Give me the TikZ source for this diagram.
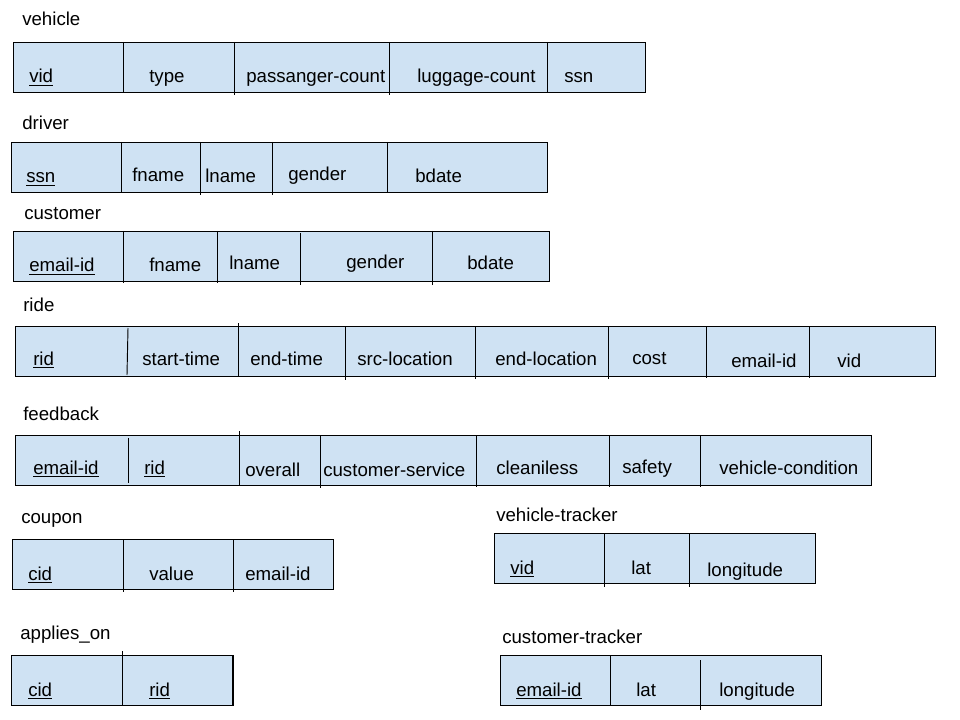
\documentclass[tikz,border=0pt]{standalone}
\usepackage{fontspec}
\setmainfont{Liberation Sans}
\definecolor{cellblue}{HTML}{CFE2F3}
% primary-key attribute
\newcommand{\pkey}[1]{\underline{#1}}
\begin{document}
\begin{tikzpicture}[x=0.75pt,y=-0.75pt,
  tablebox/.style={fill=cellblue,draw=black,line width=0.7pt},
  divider/.style={draw=black,line width=0.7pt},
  attr/.style={anchor=base west,inner sep=0pt,font=\fontsize{14}{16}\selectfont},
  title/.style={anchor=base west,inner sep=0pt,font=\fontsize{14}{16}\selectfont}]
\useasboundingbox[fill=white] (0,0) rectangle (960,720);

% ---------- vehicle
\node[title] (vehicle) at (22,26) {vehicle};
\path[tablebox] (13,42) rectangle (645,92);
\foreach \x/\a/\b in {123/42/92,234/42/95,389/42/95,547/42/92}
  \draw[divider] (\x,\a) -- (\x,\b);
\node[attr] (vehicle-vid) at (29,83) {\pkey{vid}};
\node[attr] (vehicle-type) at (149,83) {type};
\node[attr] (vehicle-pc) at (246,83) {passanger-count};
\node[attr] (vehicle-lc) at (417,83) {luggage-count};
\node[attr] (vehicle-ssn) at (564,83) {ssn};

% ---------- driver
\node[title] (driver) at (22,130) {driver};
\path[tablebox] (11,142) rectangle (547,192);
\foreach \x/\a/\b in {121/142/192,200/142/195,272/142/195,387/142/192}
  \draw[divider] (\x,\a) -- (\x,\b);
\node[attr] (driver-ssn) at (26,183) {\pkey{ssn}};
\node[attr] (driver-fname) at (132,182) {fname};
\node[attr] (driver-lname) at (205,183) {lname};
\node[attr] (driver-gender) at (288,181) {gender};
\node[attr] (driver-bdate) at (415,183) {bdate};

% ---------- customer
\node[title] (customer) at (24,220) {customer};
\path[tablebox] (13,231) rectangle (549,281);
\foreach \x/\a/\b in {123/231/283,217/231/283,300/233/285,432/231/285}
  \draw[divider] (\x,\a) -- (\x,\b);
\node[attr] (customer-email) at (29,272) {\pkey{email-id}};
\node[attr] (customer-fname) at (149,272) {fname};
\node[attr] (customer-lname) at (229,270) {lname};
\node[attr] (customer-gender) at (346,269) {gender};
\node[attr] (customer-bdate) at (467,270) {bdate};

% ---------- ride
\node[title] (ride) at (23,311) {ride};
\path[tablebox] (15,326) rectangle (935,376);
\draw[divider] (128,328) -- (127,375);
\foreach \x/\a/\b in {238/323/376,345/326/380,475/326/379,608/326/379,706/326/378,809/326/378}
  \draw[divider] (\x,\a) -- (\x,\b);
\node[attr] (ride-rid) at (33,365) {\pkey{rid}};
\node[attr] (ride-start) at (142,365) {start-time};
\node[attr] (ride-end) at (250,365) {end-time};
\node[attr] (ride-src) at (357,365) {src-location};
\node[attr] (ride-endloc) at (495,365) {end-location};
\node[attr] (ride-cost) at (632,364) {cost};
\node[attr] (ride-email) at (731,367) {email-id};
\node[attr] (ride-vid) at (837,367) {vid};

% ---------- feedback
\node[title] (feedback) at (23,420) {feedback};
\path[tablebox] (15,435) rectangle (871,485);
\foreach \x/\a/\b in {128/438/483,239/431/485,320/435/488,476/435/487,609/435/487,700/435/487}
  \draw[divider] (\x,\a) -- (\x,\b);
\node[attr] (feedback-email) at (33,474) {\pkey{email-id}};
\node[attr] (feedback-rid) at (144,474) {\pkey{rid}};
\node[attr] (feedback-overall) at (245,476) {overall};
\node[attr] (feedback-cs) at (323,476) {customer-service};
\node[attr] (feedback-clean) at (496,474) {cleaniless};
\node[attr] (feedback-safety) at (622,473) {safety};
\node[attr] (feedback-vc) at (719,474) {vehicle-condition};

% ---------- coupon
\node[title] (coupon) at (21,523) {coupon};
\path[tablebox] (12,539) rectangle (333,589);
\foreach \x/\a/\b in {123/539/592,233/539/592}
  \draw[divider] (\x,\a) -- (\x,\b);
\node[attr] (coupon-cid) at (28,580) {\pkey{cid}};
\node[attr] (coupon-value) at (149,580) {value};
\node[attr] (coupon-email) at (245,580) {email-id};

% ---------- vehicle-tracker
\node[title] (vtracker) at (496,521) {vehicle-tracker};
\path[tablebox] (494,533) rectangle (815,583);
\foreach \x/\a/\b in {604/533/587,689/533/587}
  \draw[divider] (\x,\a) -- (\x,\b);
\node[attr] (vtracker-vid) at (510,574) {\pkey{vid}};
\node[attr] (vtracker-lat) at (631,574) {lat};
\node[attr] (vtracker-long) at (707,576) {longitude};

% ---------- applies_on
\node[title] (applies) at (20,639) {applies\_on};
\path[tablebox] (11,655) rectangle (233,705);
\draw[divider] (122,651) -- (122,705);
\draw[black,line width=1.2pt] (233,655) -- (233,705);
\node[attr] (applies-cid) at (28,696) {\pkey{cid}};
\node[attr] (applies-rid) at (149,696) {\pkey{rid}};

% ---------- customer-tracker
\node[title] (ctracker) at (502,643) {customer-tracker};
\path[tablebox] (500,655) rectangle (821,705);
\draw[divider] (610,655) -- (610,705);
\draw[divider] (700,660) -- (700,710);
\node[attr] (ctracker-email) at (516,696) {\pkey{email-id}};
\node[attr] (ctracker-lat) at (636,696) {lat};
\node[attr] (ctracker-long) at (719,696) {longitude};
\end{tikzpicture}
\end{document}
